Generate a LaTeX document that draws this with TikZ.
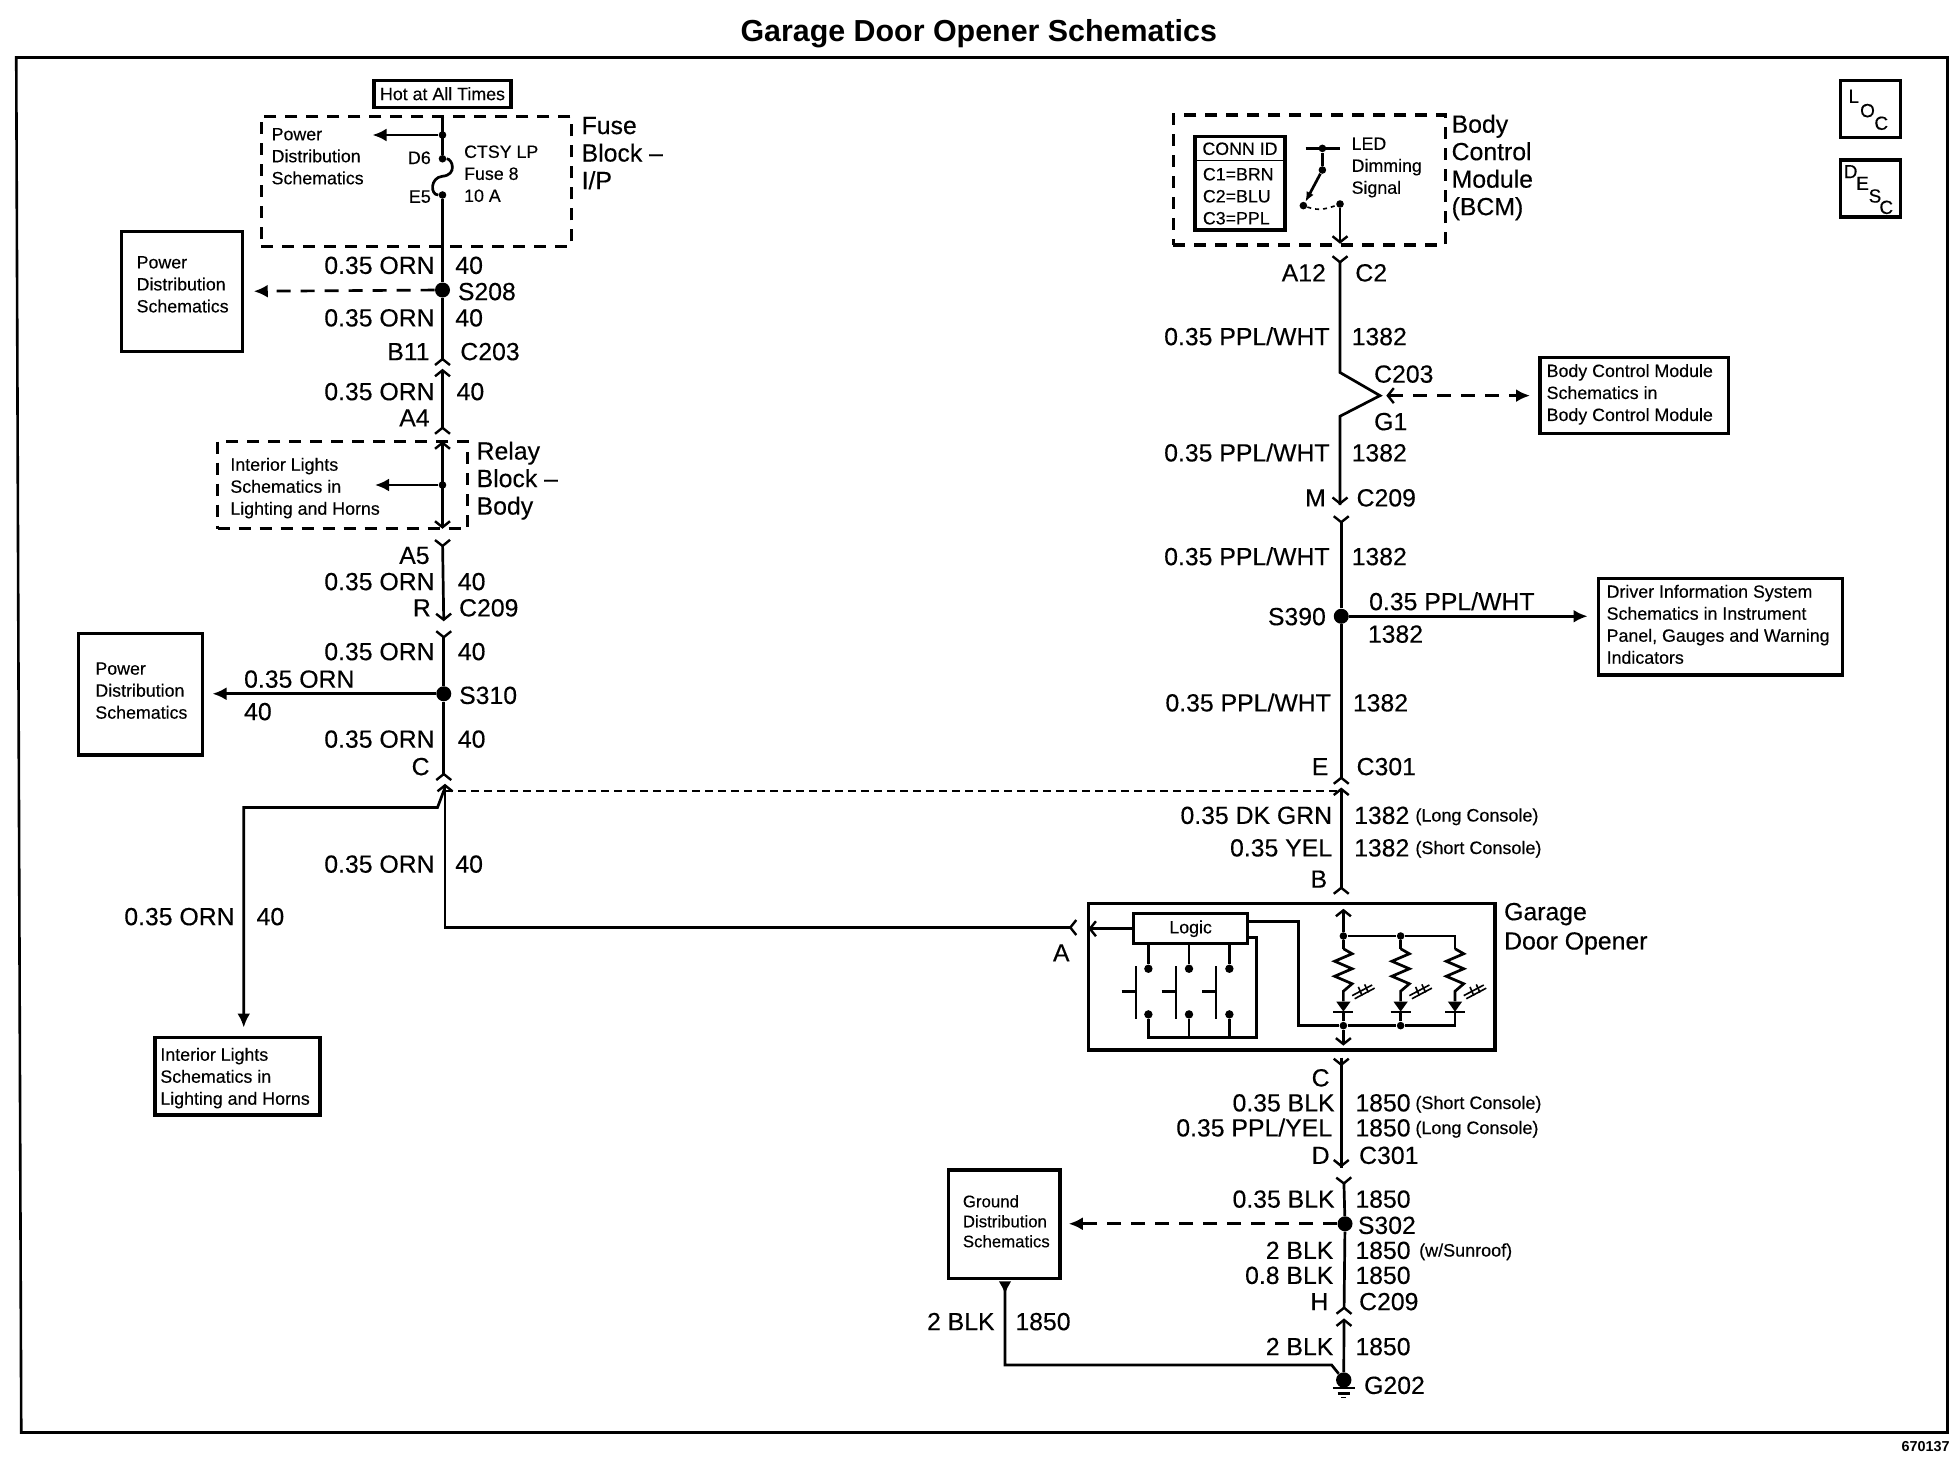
\documentclass[tikz,border=0pt]{standalone}
\usepackage{fontspec}
\setmainfont{Liberation Sans}[UprightFeatures={FakeBold=0.3}]
\usepackage{tikz}
\usetikzlibrary{arrows.meta}
\tikzstyle{lab}=[font=\fontsize{12.4}{13.75}\selectfont,inner sep=0pt,text height=8.9pt,text depth=0pt]
\tikzstyle{wl}=[lab,anchor=east]
\tikzstyle{wr}=[lab,anchor=west]
\tikzstyle{note}=[font=\fontsize{9}{9}\selectfont,inner sep=0pt,anchor=west,text height=6.5pt,text depth=0pt]
\tikzstyle{block}=[font=\fontsize{12.4}{13.75}\selectfont,inner sep=0pt,anchor=west,align=left]
\tikzstyle{small}=[font=\fontsize{8.9}{11}\selectfont,inner sep=0pt,anchor=west,align=left]
\tikzstyle{refbox}=[rectangle,draw=black,line width=1.7pt,inner sep=0pt,align=left,font=\fontsize{8.9}{11}\selectfont]
\tikzstyle{dashbox}=[rectangle,draw=black,line width=1.6pt,inner sep=0pt,dash pattern=on 6pt off 4.5pt]
\tikzstyle{wire}=[line width=1.35pt]
\tikzstyle{branch}=[wire,-{Latex[length=7pt,width=6.5pt]}]
\tikzstyle{dashwire}=[wire,dash pattern=on 7pt off 5pt]
\tikzstyle{splice}=[circle,fill=black,inner sep=0pt,minimum size=7.5pt]
\tikzstyle{dot}=[circle,fill=black,inner sep=0pt,minimum size=3.8pt]
\tikzstyle{letter}=[font=\fontsize{9.5}{9.5}\selectfont,inner sep=0pt]
\tikzset{bar/.tip={Straight Barb[length=3pt,width=7.5pt,line width=1.2pt]},>={bar}}

\begin{document}
\begin{tikzpicture}[x=0.625pt,y=-0.625pt]
  \useasboundingbox (0,0) rectangle (1568,1177.6);
  \node (title) [font=\fontsize{15.2}{16}\selectfont\bfseries,inner sep=0pt] at (783,27) {Garage Door Opener Schematics};
  \draw[line width=1.3pt] (13,46) -- (1558,46) -- (1558,1146) -- (17,1146) -- cycle;
  \node (figno) [font=\fontsize{7.2}{8}\selectfont\bfseries,inner sep=0pt,anchor=east] at (1560,1157) {670137};

  % LOC and DESC
  \node (locbox) [rectangle,draw,line width=1.7pt,minimum width=30pt,minimum height=28.5pt] at (1496.5,87.3) {};
  \node (descbox) [rectangle,draw,line width=1.7pt,minimum width=30pt,minimum height=28.5pt] at (1496.5,150.8) {};
  \node (l1) [letter] at (1483,77) {L};
  \node (l2) [letter] at (1494,88.5) {O};
  \node (l3) [letter] at (1505,98.6) {C};
  \node (d1) [letter] at (1480.5,137.3) {D};
  \node (d2) [letter] at (1490,146.7) {E};
  \node (d3) [letter] at (1500,156.8) {S};
  \node (d4) [letter] at (1509,165.9) {C};

  % left column
  \node (hot) [refbox,minimum width=68.5pt,minimum height=13.5pt] at (354,75) {Hot at All Times};
  \node (fuseblk) [dashbox,minimum width=155pt,minimum height=65pt] at (333,145) {};
  \node (fusetxt) [block] at (465,122.5) {Fuse\\Block --\\I/P};
  \node (fusepd) [small] at (217,125) {Power\\Distribution\\Schematics};
  \node (fusename) [small] at (371,139) {CTSY LP\\Fuse 8\\10 A};
  \node (D6lab) [note,anchor=east] at (345,126) {D6};
  \node (E5lab) [note,anchor=east] at (345,157) {E5};
  \coordinate (Ftop) at (354,93);
  \node (Fb) [dot] at (354,108) {};
  \node (D6) [dot] at (354,127) {};
  \node (E5) [dot] at (354,156) {};
  \node (S208) [splice] at (354,232) {};
  \node (pdA) [refbox,minimum width=60.6pt,minimum height=60pt] at (145.5,233) {};
  \node (pdAt) [small] at (109,227.5) {Power\\Distribution\\Schematics};
  \node (c1a) [wl] at (348,212) {0.35 ORN};
  \node (c1b) [wr] at (364,212) {40};
  \node (S208lab) [wr] at (366,233) {S208};
  \node (c2a) [wl] at (348,254) {0.35 ORN};
  \node (c2b) [wr] at (364,254) {40};
  \node (B11) [wl] at (344,281) {B11};
  \node (C203a) [wr] at (368,281) {C203};
  \node (c3a) [wl] at (348,313) {0.35 ORN};
  \node (c3b) [wr] at (365,313) {40};
  \node (A4) [wl] at (344,334) {A4};
  \node (relayblk) [dashbox,minimum width=125pt,minimum height=43.8pt] at (274,388) {};
  \node (relaytxt) [block] at (381,384.5) {Relay\\Block --\\Body};
  \node (relayil) [small] at (184,390.5) {Interior Lights\\Schematics in\\Lighting and Horns};
  \node (Rb) [dot] at (354,388) {};
  \node (A5) [wl] at (344,444) {A5};
  \node (c4a) [wl] at (348,465) {0.35 ORN};
  \node (c4b) [wr] at (366,465) {40};
  \node (Rlab) [wl] at (345,486) {R};
  \node (C209a) [wr] at (367,486) {C209};
  \node (c5a) [wl] at (348,521) {0.35 ORN};
  \node (c5b) [wr] at (366,521) {40};
  \node (S310) [splice] at (355,555) {};
  \node (S310lab) [wr] at (367,556) {S310};
  \node (pdB) [refbox,minimum width=61.9pt,minimum height=60.6pt] at (112.5,555.5) {};
  \node (pdBt) [small] at (76,552.5) {Power\\Distribution\\Schematics};
  \node (c6a) [wr] at (195,543) {0.35 ORN};
  \node (c6b) [wr] at (195,569) {40};
  \node (c7a) [wl] at (348,591) {0.35 ORN};
  \node (c7b) [wr] at (366,591) {40};
  \node (Clab) [wl] at (344,613) {C};
  \node (c8a) [wl] at (348,691) {0.35 ORN};
  \node (c8b) [wr] at (364,691) {40};
  \node (c9a) [wl] at (188,733) {0.35 ORN};
  \node (c9b) [wr] at (205,733) {40};
  \node (ilA) [refbox,minimum width=82.5pt,minimum height=38.8pt] at (190,861) {};
  \node (ilAt) [small] at (128,862.5) {Interior Lights\\Schematics in\\Lighting and Horns};
  \node (Alab) [lab] at (849,762) {A};
  \coordinate (J1) at (356,630);

  \draw[wire] (Ftop) -- (D6);
  \draw[branch] (Fb) -- (298,108);
  \draw[wire] (D6) .. controls (362,127) and (366,140) .. (354,141) .. controls (344,142) and (344,156) .. (E5);
  \draw[wire] (E5) -- (S208);
  \draw[dashwire,-{Latex[length=7pt,width=6.5pt]}] (S208) -- (203,233);
  \draw[wire,-{bar[reversed]}] (S208) -- (354,293);
  \draw[wire,<-{bar[reversed]}] (354,295) -- (354,348);
  \draw[wire,<->] (354,353) -- (354,423);
  \draw[branch] (Rb) -- (300,388);
  \draw[wire,{bar[reversed]}->] (354,431) -- (355,497);
  \draw[wire,{bar[reversed]}-] (355,504) -- (S310);
  \draw[branch] (S310) -- (170,555);
  \draw[wire,-{bar[reversed]}] (S310) -- (355,625);
  \draw[wire,<-{bar[reversed]}] (356,627) -- (356,742) -- (862,742);
  \draw[branch] (J1) -- (350,646) -- (195,646) -- (195,822);
  \draw[dash pattern=on 4pt off 2.5pt,line width=1pt] (J1) ++(0,3) -- (1072,633);

  % right column
  \node (bcmblk) [dashbox,minimum width=136pt,minimum height=65pt] at (1047.4,144) {};
  \node (bcmtxt) [block] at (1161,134) {Body\\Control\\Module\\(BCM)};
  \node (conn) [rectangle,draw,line width=1.7pt,minimum width=45pt,minimum height=46.9pt] at (992,146.5) {};
  \draw[line width=0.8pt] (conn.west |- 0,128.5) -- (conn.east |- 0,128.5);
  \node (connid) [font=\fontsize{8.9}{10}\selectfont,inner sep=0pt] at (992,119) {CONN ID};
  \node (conncol) [small] at (962,157) {C1=BRN\\C2=BLU\\C3=PPL};
  \node (ledtxt) [small] at (1081,134) {LED\\Dimming\\Signal};
  \coordinate (Ba) at (1044.5,118.7);
  \coordinate (Bb) at (1072,118.7);
  \node (Sw0) [dot] at (1057.9,118.7) {};
  \node (Sw1) [dot] at (1057.9,136) {};
  \node (Sw2) [dot] at (1042.7,164.5) {};
  \node (Sw3) [dot] at (1072,163.2) {};
  \draw[wire] (Ba) -- (Bb);
  \draw[wire] (Sw0) -- (Sw1);
  \draw[wire,-{Latex[length=5pt,width=4pt]}] (Sw1) -- (Sw2);
  \draw[line width=0.8pt,dash pattern=on 2pt off 2pt] (Sw2) to [out=-20,in=200,looseness=1] (Sw3);
  \draw[wire,->] (Sw3) -- (1072,195);
  \node (A12) [wl] at (1061,218) {A12};
  \node (C2) [wr] at (1084,218) {C2};
  \node (r1a) [wl] at (1064,269) {0.35 PPL/WHT};
  \node (r1b) [wr] at (1081,269) {1382};
  \node (C203b) [wr] at (1099,299) {C203};
  \node (G1) [wr] at (1099,337) {G1};
  \node (bcmref) [refbox,minimum width=94.4pt,minimum height=38.1pt] at (1307.5,316.5) {};
  \node (bcmreft) [small] at (1237,315.5) {Body Control Module\\Schematics in\\Body Control Module};
  \coordinate (X1) at (1104,316.5);
  \node (r2a) [wl] at (1064,362) {0.35 PPL/WHT};
  \node (r2b) [wr] at (1081,362) {1382};
  \node (Mlab) [wl] at (1061,398) {M};
  \node (C209b) [wr] at (1085,398) {C209};
  \node (r3a) [wl] at (1064,445) {0.35 PPL/WHT};
  \node (r3b) [wr] at (1081,445) {1382};
  \node (S390) [splice] at (1073,493) {};
  \node (S390lab) [wl] at (1061,493) {S390};
  \node (r4a) [wr] at (1095,481) {0.35 PPL/WHT};
  \node (r4b) [wr] at (1094,507) {1382};
  \node (dis) [refbox,minimum width=121.9pt,minimum height=48.1pt] at (1376.5,501.5) {};
  \node (dist) [small] at (1285,499.5) {Driver Information System\\Schematics in Instrument\\Panel, Gauges and Warning\\Indicators};
  \node (r5a) [wl] at (1065,562) {0.35 PPL/WHT};
  \node (r5b) [wr] at (1082,562) {1382};
  \node (Elab) [wl] at (1063,613) {E};
  \node (C301a) [wr] at (1085,613) {C301};
  \node (r6a) [wl] at (1066,652) {0.35 DK GRN};
  \node (r6b) [wr] at (1083,652) {1382};
  \node (r6c) [note] at (1132,652) {(Long Console)};
  \node (r7a) [wl] at (1066,678) {0.35 YEL};
  \node (r7b) [wr] at (1083,678) {1382};
  \node (r7c) [note] at (1132,678) {(Short Console)};
  \node (Blab) [wl] at (1062,703) {B};

  \draw[wire,{bar[reversed]}-] (1072,204) -- (1072,298) -- (X1) -- (1072,333) -- (1072,404);
  \draw[wire,->] (1072,333) -- (1072,404);
  \draw[dashwire,<-{Latex[length=7pt,width=6.5pt]}] (1109,316.5) -- (1224,316.5);
  \draw[wire,{bar[reversed]}-] (1073,412) -- (S390);
  \draw[branch] (S390) -- (1270,493);
  \draw[wire,-{bar[reversed]}] (S390) -- (1073,628);
  \draw[wire,<-{bar[reversed]}] (1073,630) -- (1073,716);

  % garage door opener
  \node (gdo) [rectangle,draw,line width=1.7pt,minimum width=203.4pt,minimum height=73.1pt] at (1033.4,781.5) {};
  \node (gdotxt) [block] at (1203,743) {Garage\\[0.9pt]Door Opener};
  \node (logic) [refbox,minimum width=56.9pt,minimum height=15pt] at (952.5,743) {Logic};
  \draw[wire,->] (logic.west) -- (870.7,743);
  \foreach \i/\x/\bx/\hx in {1/918.7/908.8/897.3,2/951.2/940.8/929.3,3/983.5/972.8/961.9} {
    \node (st\i) [dot,minimum size=4.2pt] at (\x,775) {};
    \node (sb\i) [dot,minimum size=4.2pt] at (\x,811.5) {};
    \draw[wire] (\x,755) -- (st\i);
    \draw[wire] (\bx,773) -- (\bx,815);
    \draw[wire] (\hx,793) -- (\bx,793);
    \draw[wire] (sb\i) -- (\x,830);
  }
  \draw[wire] (sb1) -- (918.7,830) -- (1005.3,830) -- (1005.3,750) -- (998,750);
  \node (Ta) [dot] at (1074.7,748.8) {};
  \node (Tb) [dot] at (1120.5,748.8) {};
  \node (Ua) [dot] at (1074.7,820.5) {};
  \node (Ub) [dot] at (1120.5,820.5) {};
  \coordinate (LGo) at (998,737.3);
  \draw[wire] (Ta) -- (Tb) -- (1164,748.8) -- (1164,759);
  \draw[wire] (LGo) -- (1038.7,737.3) -- (1038.7,820.5) -- (Ua) -- (Ub) -- (1164,820.5) -- (1164,809);
  \draw[wire] (Tb) -- (1120.5,759);
  \draw[wire] (Ta) -- (1074.7,759);
  \draw[wire,->] (Ta) -- (1074.7,727);
  \draw[wire,->] (Ua) -- (1074.7,836.5);
  \draw[wire] (Ub) -- (1120.5,809);
  \draw[wire] (Ua) -- (1074.7,809);
  \foreach \x in {1074.7,1120.5,1164} {
    \draw[wire] (\x,759) -- (\x+7,763) -- (\x-7,769) -- (\x+7,775) -- (\x-7,781) -- (\x+7,787) -- (\x,793) -- (\x,801);
    \fill (\x-5.7,801.3) -- (\x+5.7,801.3) -- (\x,809.3) -- cycle;
    \draw[wire] (\x-8,809.6) -- (\x+8,809.6);
    \draw[line width=0.8pt] (\x+7,796.5) -- (\x+23,788) (\x+9,799) -- (\x+25,790.5);
    \draw[line width=0.8pt] (\x+12,789.5) -- (\x+15,796.5) (\x+17,787.5) -- (\x+20,794);
  }

  % bottom right
  \node (Ch) [wl] at (1064,862) {C};
  \node (b1a) [wl] at (1068,882) {0.35 BLK};
  \node (b1b) [wr] at (1084,882) {1850};
  \node (b1c) [note] at (1132,882) {(Short Console)};
  \node (b2a) [wl] at (1066,902) {0.35 PPL/YEL};
  \node (b2b) [wr] at (1084,902) {1850};
  \node (b2c) [note] at (1132,902) {(Long Console)};
  \node (Dlab) [wl] at (1064,924) {D};
  \node (C301b) [wr] at (1087,924) {C301};
  \node (b3a) [wl] at (1068,959) {0.35 BLK};
  \node (b3b) [wr] at (1084,959) {1850};
  \node (S302) [splice] at (1076,979) {};
  \node (S302lab) [wr] at (1086,980) {S302};
  \node (gnd) [refbox,minimum width=55.6pt,minimum height=54.4pt] at (803.5,979.5) {};
  \node (gndt) [small,font=\fontsize{8.4}{10}\selectfont] at (770,977) {Ground\\Distribution\\Schematics};
  \node (b4a) [wl] at (1067,1000) {2 BLK};
  \node (b4b) [wr] at (1084,1000) {1850};
  \node (b4c) [note] at (1135,1000) {(w/Sunroof)};
  \node (b5a) [wl] at (1067,1020) {0.8 BLK};
  \node (b5b) [wr] at (1084,1020) {1850};
  \node (Hlab) [wl] at (1063,1041) {H};
  \node (C209c) [wr] at (1087,1041) {C209};
  \node (b6a) [wl] at (1067,1077) {2 BLK};
  \node (b6b) [wr] at (1084,1077) {1850};
  \node (G202) [splice,minimum size=7.7pt] at (1075,1104) {};
  \node (G202lab) [wr] at (1091,1108) {G202};
  \node (b7a) [wl] at (796,1057) {2 BLK};
  \node (b7b) [wr] at (812,1057) {1850};

  \draw[wire,{bar[reversed]}-] (1073,846) -- (1073,934);
  \draw[wire,->] (1073,846) -- (1073,934);
  \draw[wire,{bar[reversed]}-] (1075,941) -- (S302);
  \draw[dashwire,-{Latex[length=7pt,width=6.5pt]}] (S302) -- (855,979);
  \draw[wire,-{bar[reversed]}] (S302) -- (1075.2,1052);
  \draw[wire,<-] (1075.2,1054.7) -- (G202);
  \draw[wire,-{Latex[length=6.5pt,width=6.5pt,reversed]}] (G202) -- (1065.3,1092) -- (804,1092) -- (804,1025);
  \draw[wire] (1066.3,1110.5) -- (1083.7,1110.5);
  \draw[wire] (1070,1114.7) -- (1080,1114.7);
  \draw[line width=0.8pt] (1073,1118) -- (1077,1118);
\end{tikzpicture}
\end{document}
